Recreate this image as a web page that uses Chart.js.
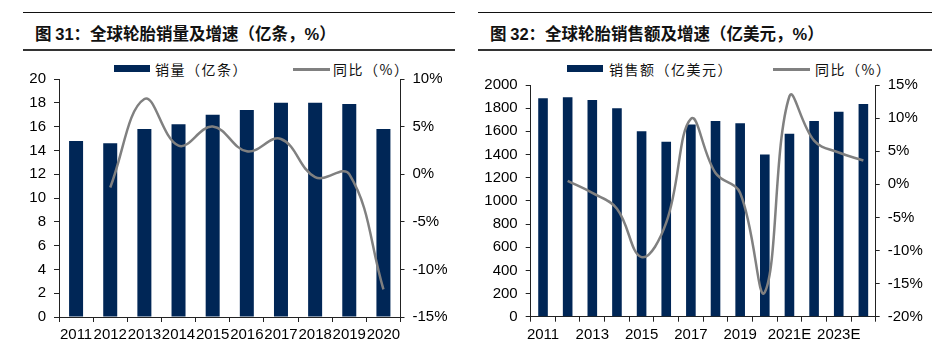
<!DOCTYPE html>
<html>
<head>
<meta charset="utf-8">
<script src="https://cdn.jsdelivr.net/npm/chart.js@4.4.0/dist/chart.umd.min.js"></script>
<style>
    body { margin: 0; width: 932px; height: 347px; background: #fff; position: relative; overflow: hidden; font-family: "Liberation Sans", Arial, sans-serif; }
    .rule-top { position: absolute; top: 12px; height: 0; border-top: 1.5px solid #111; }
    .rule-bottom { position: absolute; top: 49px; height: 0; border-top: 2.5px solid #333; }
    .title { position: absolute; top: 22px; font: bold 16.5px "Noto Sans CJK SC", sans-serif; color: #111; white-space: nowrap; line-height: 22px; }
    .title .num { font-family: "Liberation Sans", Arial, sans-serif; }
    .chart-box { position: absolute; top: 55px; width: 466px; height: 292px; }
    .legend-text { position: absolute; top: 60px; font: 14px "Noto Sans CJK SC", sans-serif; letter-spacing: 1.5px; color: #111; line-height: 18px; white-space: nowrap; }
    .swatch-bar { position: absolute; top: 65px; height: 7px; background: #002656; }
    .swatch-line { position: absolute; top: 68px; height: 3px; background: #808080; }
</style>
</head>
<body>

<!-- 图31 -->
<div class="rule-top" style="left:23px; width:432px;"></div>
<div class="title" style="left:35px;">图 <span class="num">31</span>：全球轮胎销量及增速（亿条，<span class="num">%</span>）</div>
<div class="rule-bottom" style="left:23px; width:432px;"></div>
<div class="swatch-bar" style="left:114px; width:36px;"></div>
<div class="legend-text" style="left:155px;">销量（亿条）</div>
<div class="swatch-line" style="left:293px; width:37px;"></div>
<div class="legend-text" style="left:333px;">同比（%）</div>
<div class="chart-box" style="left:0;"><canvas id="volumeChart"></canvas></div>

<!-- 图32 -->
<div class="rule-top" style="left:478px; width:454px;"></div>
<div class="title" style="left:490px;">图 <span class="num">32</span>：全球轮胎销售额及增速（亿美元，<span class="num">%</span>）</div>
<div class="rule-bottom" style="left:478px; width:454px;"></div>
<div class="swatch-bar" style="left:567px; width:36px;"></div>
<div class="legend-text" style="left:609px;">销售额（亿美元）</div>
<div class="swatch-line" style="left:773px; width:37px;"></div>
<div class="legend-text" style="left:815px;">同比（%）</div>
<div class="chart-box" style="left:466px;"><canvas id="revenueChart"></canvas></div>

<script>
// 图31 data
const volumeYears = ['2011', '2012', '2013', '2014', '2015', '2016', '2017', '2018', '2019', '2020'];
const volumeValues = [14.8, 14.6, 15.8, 16.2, 17.0, 17.4, 18.0, 18.0, 17.9, 15.8];
const volumeYoY = [null, -1.4, 7.9, 3.0, 5.0, 2.4, 3.7, -0.3, 0.0, -12.1];

// 图32 data
const revenueYears = ['2011', '2012', '2013', '2014', '2015', '2016', '2017', '2018', '2019', '2020', '2021E', '2022E', '2023E', '2024E'];
const revenueValues = [1885, 1895, 1870, 1800, 1600, 1510, 1660, 1690, 1670, 1400, 1580, 1690, 1770, 1835];
const revenueYoY = [null, 0.5, -1.3, -3.7, -11.0, -5.8, 9.9, 1.7, -1.3, -16.3, 13.3, 6.6, 4.8, 3.6];

const BAR_COLOR = '#002656';
const LINE_COLOR = '#808080';
const AXIS_COLOR = '#222';
const TICK_FONT = { family: '"Liberation Sans", Arial, sans-serif', size: 15 };

function fixedSize(size, prop) {
    return function(scale) { scale[prop] = size; };
}

function buildChart(canvasId, cfg) {
    const ctx = document.getElementById(canvasId).getContext('2d');
    return new Chart(ctx, {
        type: 'bar',
        data: {
            labels: cfg.labels,
            datasets: [{
                type: 'line',
                data: cfg.yoy,
                yAxisID: 'y1',
                borderColor: LINE_COLOR,
                borderWidth: 2.5,
                pointRadius: 0,
                tension: 0.4,
                fill: false,
                clip: false,
                order: 1
            }, {
                data: cfg.values,
                yAxisID: 'y',
                backgroundColor: BAR_COLOR,
                categoryPercentage: 1,
                barPercentage: cfg.barPct,
                order: 2
            }]
        },
        options: {
            responsive: true,
            maintainAspectRatio: false,
            animation: false,
            layout: { padding: { top: cfg.top, left: 0, right: 0, bottom: 0 } },
            plugins: {
                legend: { display: false },
                tooltip: { enabled: false }
            },
            scales: {
                x: {
                    offset: true,
                    afterFit: fixedSize(cfg.xHeight, 'height'),
                    grid: { offset: true, drawOnChartArea: false, drawTicks: true, tickLength: 5, color: AXIS_COLOR },
                    border: { display: true, color: AXIS_COLOR, width: 1 },
                    ticks: {
                        color: '#000',
                        font: TICK_FONT,
                        padding: 4,
                        autoSkip: false,
                        maxRotation: 0,
                        callback: function(value, index) {
                            return index % cfg.labelEvery === 0 ? cfg.labels[index] : '';
                        }
                    }
                },
                y: {
                    position: 'left',
                    min: cfg.yMin, max: cfg.yMax,
                    afterFit: fixedSize(cfg.leftWidth, 'width'),
                    grid: { drawOnChartArea: false, drawTicks: true, tickLength: 5, color: AXIS_COLOR },
                    border: { display: true, color: AXIS_COLOR, width: 1 },
                    ticks: { stepSize: cfg.yStep, color: '#000', font: TICK_FONT, padding: 8, callback: v => String(v) }
                },
                y1: {
                    position: 'right',
                    min: cfg.y1Min, max: cfg.y1Max,
                    afterFit: fixedSize(cfg.rightWidth, 'width'),
                    grid: { drawOnChartArea: false, drawTicks: true, tickLength: 4, color: AXIS_COLOR },
                    border: { display: true, color: AXIS_COLOR, width: 1 },
                    ticks: {
                        stepSize: 5,
                        color: '#000',
                        font: TICK_FONT,
                        padding: 8,
                        callback: v => v + '%'
                    }
                }
            }
        }
    });
}

buildChart('volumeChart', {
    labels: volumeYears,
    values: volumeValues,
    yoy: volumeYoY,
    barPct: 0.41,
    labelEvery: 1,
    top: 24,
    xHeight: 30,
    leftWidth: 59,
    rightWidth: 65.5,
    yMin: 0, yMax: 20, yStep: 2,
    y1Min: -15, y1Max: 10
});

buildChart('revenueChart', {
    labels: revenueYears,
    values: revenueValues,
    yoy: revenueYoY,
    barPct: 0.39,
    labelEvery: 2,
    top: 30,
    xHeight: 30.3,
    leftWidth: 64.7,
    rightWidth: 56.3,
    yMin: 0, yMax: 2000, yStep: 200,
    y1Min: -20, y1Max: 15
});
</script>
</body>
</html>
